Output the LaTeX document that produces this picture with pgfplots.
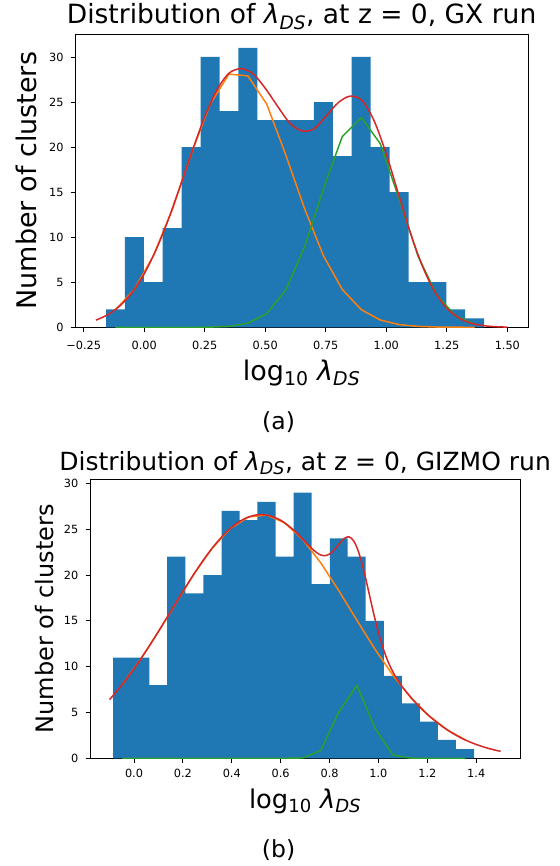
\documentclass[border=0pt]{standalone}
\usepackage{fontspec}
\setmainfont{DejaVu Sans}
\usepackage{pgfplots}
\pgfplotsset{compat=1.18}

\definecolor{c0}{HTML}{1F77B4}
\definecolor{c1}{HTML}{FF7F0E}
\definecolor{c2}{HTML}{2CA02C}
\definecolor{c3}{HTML}{D62728}

\newcommand{\lds}{{\itshape λ}\textsubscript{\itshape DS}}

\pgfplotsset{
  histo/.style={
    scale only axis,
    anchor=south west,
    axis line style={black, line width=0.8pt},
    tick align=outside,
    tick pos=left,
    major tick length=4.5pt,
    tick style={black, line width=0.8pt},
    /pgf/number format/assume math mode=true,
    ticklabel style={font=\fontsize{11.3}{13}\selectfont, inner sep=0pt},
    yticklabel style={xshift=-7pt},
    ymin=0,
    ytick={0,5,10,15,20,25,30},
    yticklabels={0,5,10,15,20,25,30},
    title style={at={(axis description cs:0.5,1)}, anchor=base},
    xlabel style={at={(axis description cs:0.5,0)}, anchor=base},
  },
  bars/.style={const plot, fill=c0, draw=none},
  comp/.style={line width=1.5pt},
}

\begin{document}
\begin{tikzpicture}
\path[use as bounding box] (0pt,0pt) rectangle (559pt,-866pt);

% (a) GX run
\begin{axis}[histo,
  at={(75.3pt,-327.3pt)},
  width=452.6pt, height=293.3pt,
  xmin=-0.285, xmax=1.585, ymax=32.55,
  xtick={-0.25,0,0.25,0.5,0.75,1,1.25,1.5},
  xticklabels={−0.25,0.00,0.25,0.50,0.75,1.00,1.25,1.50},
  xticklabel style={yshift=-9.5pt},
  title={Distribution of \lds, at z = 0, GX run},
  title style={font=\fontsize{26.5}{30}\selectfont, yshift=4pt},
  xlabel={log\textsubscript{10} \lds},
  xlabel style={font=\fontsize{27}{30}\selectfont, yshift=-52.7pt},
  ylabel={Number of clusters},
  ylabel style={font=\fontsize{27}{30}\selectfont,
    at={([xshift=-38.6pt]axis description cs:0,0.5)}, anchor=base},
]
\addplot[bars] coordinates {
  (-0.158,2) (-0.080,10) (-0.002,5) (0.076,11) (0.154,20) (0.233,30)
  (0.311,24) (0.389,31) (0.467,23) (0.545,23) (0.623,23) (0.701,25)
  (0.779,19) (0.857,30) (0.935,20) (1.014,15) (1.092,5) (1.170,5)
  (1.248,2) (1.326,1) (1.404,1)
} \closedcycle;
\addplot[comp, c1] coordinates {
  (-0.119,1.95) (-0.041,4.20) (0.037,7.91) (0.115,13.0) (0.193,19.17)
  (0.272,24.77) (0.350,28.1) (0.428,27.9) (0.506,24.77) (0.584,19.17)
  (0.662,13.19) (0.740,7.95) (0.818,4.2) (0.897,1.95) (0.975,0.81)
  (1.053,0.30) (1.131,0.10) (1.209,0.03) (1.287,0.01) (1.365,0.0)
};
\addplot[comp, c2] coordinates {
  (-0.119,0) (-0.041,0) (0.037,0) (0.115,0) (0.193,0)
  (0.272,0.02) (0.350,0.10) (0.428,0.45) (0.506,1.52) (0.584,4.11)
  (0.662,8.9) (0.740,15.36) (0.818,21.17) (0.897,23.28) (0.975,20.38)
  (1.053,14.25) (1.131,7.9) (1.209,3.54) (1.287,1.26) (1.365,0.36)
};
\addplot[comp, c3, smooth] coordinates {
  (-0.20,0.79) (-0.15,1.41) (-0.10,2.40) (-0.05,3.87) (0.00,5.95)
  (0.05,8.68) (0.10,12.01) (0.15,15.80) (0.20,19.72) (0.25,23.37)
  (0.30,26.34) (0.35,28.20) (0.40,28.70) (0.45,28.12) (0.50,26.52)
  (0.55,24.56) (0.60,22.7) (0.65,21.8) (0.70,22.0) (0.75,23.4)
  (0.80,24.9) (0.85,25.65) (0.90,25.17) (0.95,22.89) (1.00,19.22)
  (1.05,14.81) (1.10,10.45) (1.15,6.73) (1.20,3.96) (1.25,2.12)
  (1.30,1.04) (1.35,0.46) (1.40,0.19) (1.45,0.07) (1.50,0.02)
};
\end{axis}

\node[font=\fontsize{23.5}{26}\selectfont] at (278.6pt,-422pt) {(a)};

% (b) GIZMO run
\begin{axis}[histo,
  at={(90pt,-758.3pt)},
  width=430.2pt, height=279pt,
  xmin=-0.18, xmax=1.58, ymax=30.45,
  xtick={0,0.2,0.4,0.6,0.8,1,1.2,1.4},
  xticklabels={0.0,0.2,0.4,0.6,0.8,1.0,1.2,1.4},
  xticklabel style={yshift=-6.5pt},
  title={Distribution of \lds, at z = 0, GIZMO run},
  title style={font=\fontsize{25}{28}\selectfont, yshift=3.3pt},
  xlabel={log\textsubscript{10} \lds},
  xlabel style={font=\fontsize{25.8}{29}\selectfont, yshift=-49.7pt},
  ylabel={Number of clusters},
  ylabel style={font=\fontsize{24}{27}\selectfont,
    at={([xshift=-37pt]axis description cs:0,0.5)}, anchor=base},
]
\addplot[bars] coordinates {
  (-0.085,11) (-0.011,11) (0.063,8) (0.136,22) (0.210,18) (0.284,20)
  (0.358,27) (0.432,26) (0.505,28) (0.579,22) (0.653,29) (0.727,19)
  (0.801,24) (0.874,22) (0.948,15) (1.022,9) (1.096,6) (1.170,4)
  (1.243,2) (1.317,1) (1.391,1)
} \closedcycle;
\addplot[comp, c1] coordinates {
  (-0.048,8.05) (0.026,10.77) (0.100,13.83) (0.174,17.05) (0.247,20.18)
  (0.321,22.97) (0.395,25.11) (0.469,26.34) (0.543,26.55) (0.616,25.71)
  (0.690,23.90) (0.764,21.34) (0.838,18.29) (0.912,15.06) (0.986,11.90)
  (1.059,9.07) (1.133,6.61) (1.207,4.63) (1.281,3.11) (1.355,2.01)
};
\addplot[comp, c2] coordinates {
  (-0.048,0) (0.026,0) (0.100,0) (0.174,0) (0.247,0)
  (0.321,0) (0.395,0) (0.469,0) (0.543,0) (0.616,0)
  (0.690,0.04) (0.764,0.85) (0.838,5.07) (0.912,7.96) (0.986,3.29)
  (1.059,0.37) (1.133,0.01) (1.207,0) (1.281,0) (1.355,0)
};
\addplot[comp, c3, smooth] coordinates {
  (-0.10,6.41) (-0.05,7.99) (0.00,9.77) (0.05,11.74) (0.10,13.84)
  (0.15,16.02) (0.20,18.21) (0.25,20.31) (0.30,22.24) (0.35,23.90)
  (0.40,25.22) (0.45,26.12) (0.50,26.56) (0.55,26.51) (0.60,25.98)
  (0.65,24.99) (0.70,23.65) (0.72,23.10) (0.74,22.60) (0.76,22.23)
  (0.78,22.11) (0.80,22.29) (0.82,22.77) (0.84,23.43) (0.86,24.00)
  (0.88,24.17) (0.90,23.68) (0.92,22.42) (0.94,20.50) (0.96,18.21)
  (0.98,15.86) (1.00,13.72) (1.02,11.94) (1.04,10.51) (1.06,9.39)
  (1.08,8.49) (1.10,7.71) (1.15,6.12) (1.20,4.80) (1.25,3.70)
  (1.30,2.79) (1.35,2.07) (1.40,1.51) (1.45,1.08) (1.50,0.76)
};
\end{axis}

\node[font=\fontsize{23.5}{26}\selectfont] at (278.6pt,-850pt) {(b)};
\end{tikzpicture}
\end{document}
